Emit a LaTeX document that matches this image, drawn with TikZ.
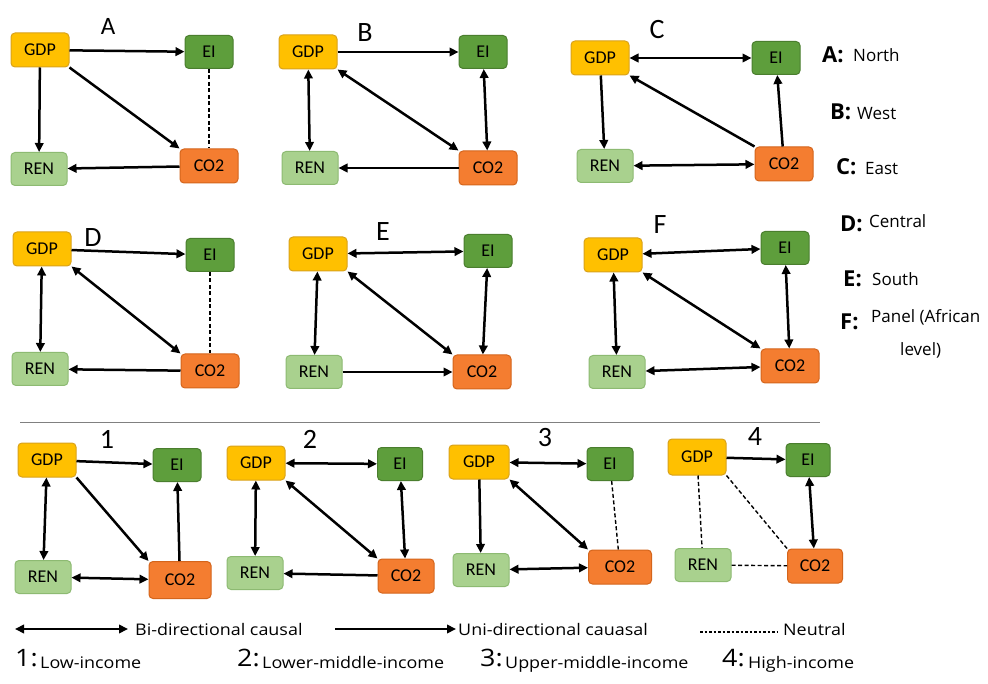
\documentclass[tikz,border=0pt]{standalone}
\usepackage{fontspec}
\setmainfont{Carlito}
\newfontfamily\legfont[FakeStretch=1.12]{Open Sans}
\newfontfamily\keyfont{Open Sans}
\usetikzlibrary{arrows.meta}
\definecolor{gdpfill}{HTML}{FFC000}
\definecolor{gdpedge}{HTML}{D9A21B}
\definecolor{eifill}{HTML}{5E9E3C}
\definecolor{eiedge}{HTML}{4A7E2E}
\definecolor{renfill}{HTML}{A9D18E}
\definecolor{renedge}{HTML}{8DBA72}
\definecolor{cofill}{HTML}{F47D30}
\definecolor{coedge}{HTML}{D4651C}
\tikzset{
  varbox/.style={rounded corners=4pt,line width=1pt,inner sep=0pt,minimum height=34pt,
    font=\fontsize{18}{18}\selectfont},
  gdpbox/.style={varbox,fill=gdpfill,draw=gdpedge,minimum width=58pt},
  eibox/.style={varbox,fill=eifill,draw=eiedge,minimum width=48pt,minimum height=33pt},
  renbox/.style={varbox,fill=renfill,draw=renedge,minimum width=56pt,minimum height=33pt},
  cobox/.style={varbox,fill=cofill,draw=coedge,minimum width=58pt},
  uni/.style={-{Triangle[length=9pt,width=8.5pt]},line width=2.5pt},
  bi/.style={{Triangle[length=9pt,width=8.5pt]}-{Triangle[length=9pt,width=8.5pt]},line width=2.5pt},
  neutral/.style={dash pattern=on 4pt off 2.5pt,line width=1.4pt},
  ttl/.style={font=\fontsize{28}{28}\selectfont},
  keyletter/.style={anchor=base west,inner sep=0pt,font=\keyfont\bfseries\fontsize{22}{22}\selectfont},
  keytext/.style={anchor=base west,inner sep=0pt,font=\keyfont\fontsize{17}{17}\selectfont},
  legtext/.style={anchor=base west,inner sep=0pt,font=\legfont\fontsize{16}{16}\selectfont},
  legnum/.style={anchor=base west,inner sep=0pt,font=\legfont\fontsize{24}{24}\selectfont}
}
\begin{document}
\begin{tikzpicture}[x=1pt,y=-1pt]
\useasboundingbox[fill=white] (0,0) rectangle (988,684);

\node[ttl,font=\fontsize{25}{25}\selectfont] (tA) at (108,26) {A};
\node[gdpbox] (gdpA) at (40,50) {GDP};
\node[eibox] (eiA) at (209,52) {EI};
\node[renbox] (renA) at (39,169) {REN};
\node[cobox] (coA) at (209,166) {CO2};
\draw[uni] (gdpA) -- (eiA);
\draw[uni] (gdpA) -- (renA);
\draw[uni] (gdpA.south east) -- (coA.north west);
\draw[uni] (coA) -- (renA);
\draw[neutral] (eiA) -- (coA);

\node[ttl] (tB) at (365,33) {B};
\node[gdpbox] (gdpB) at (308,52) {GDP};
\node[eibox] (eiB) at (483,52) {EI};
\node[renbox] (renB) at (310,168) {REN};
\node[cobox] (coB) at (488,168) {CO2};
\draw[uni] (gdpB) -- (eiB);
\draw[bi] (gdpB) -- (renB);
\draw[bi] (gdpB.south east) -- (coB.north west);
\draw[bi] (eiB) -- (coB);
\draw[uni] (coB) -- (renB);

\node[ttl] (tC) at (657,30) {C};
\node[gdpbox] (gdpC) at (600,58) {GDP};
\node[eibox] (eiC) at (776,58) {EI};
\node[renbox] (renC) at (605,166) {REN};
\node[cobox] (coC) at (784,164) {CO2};
\draw[bi] (gdpC) -- (eiC);
\draw[uni] (gdpC) -- (renC);
\draw[uni] (coC.north west) -- (gdpC.south east);
\draw[uni] (coC) -- (eiC);
\draw[bi] (renC) -- (coC);

\node[ttl] (tD) at (93,238) {D};
\node[gdpbox] (gdpD) at (42,249) {GDP};
\node[eibox] (eiD) at (210,255) {EI};
\node[renbox] (renD) at (40,369) {REN};
\node[cobox] (coD) at (210,371) {CO2};
\draw[uni] (gdpD) -- (eiD);
\draw[bi] (gdpD) -- (renD);
\draw[bi] (gdpD.south east) -- (coD.north west);
\draw[uni] (coD) -- (renD);
\draw[neutral] (eiD) -- (coD);

\node[ttl] (tE) at (383,232) {E};
\node[gdpbox] (gdpE) at (318,254) {GDP};
\node[eibox] (eiE) at (488,251) {EI};
\node[renbox] (renE) at (314,372) {REN};
\node[cobox] (coE) at (482,372) {CO2};
\draw[bi] (gdpE) -- (eiE);
\draw[bi] (gdpE) -- (renE);
\draw[bi] (gdpE.south east) -- (coE.north west);
\draw[bi] (eiE) -- (coE);
\draw[uni] (renE) -- (coE);

\node[ttl] (tF) at (660,225) {F};
\node[gdpbox] (gdpF) at (613,255) {GDP};
\node[eibox] (eiF) at (785,248) {EI};
\node[renbox] (renF) at (617,372) {REN};
\node[cobox] (coF) at (790,366) {CO2};
\draw[bi] (gdpF) -- (eiF);
\draw[bi] (gdpF) -- (renF);
\draw[bi] (gdpF.south east) -- (coF.north west);
\draw[bi] (eiF) -- (coF);
\draw[bi] (renF) -- (coF);

\node[keyletter] (kA) at (822,63) {A:};
\node[keytext] (kAt) at (853,62) {North};
\node[keyletter] (kB) at (830,120) {B:};
\node[keytext] (kBt) at (857,120) {West};
\node[keyletter] (kC) at (836,175) {C:};
\node[keytext] (kCt) at (865,175) {East};
\node[keyletter] (kD) at (840,232) {D:};
\node[keytext] (kDt) at (869,228) {Central};
\node[keyletter] (kE) at (843,287) {E:};
\node[keytext] (kEt) at (872,286) {South};
\node[keyletter] (kF) at (840,330) {F:};
\node[keytext] (kFt) at (871,323) {Panel (African};
\node[keytext] (kFt2) at (900,356) {level)};

\coordinate (sepL) at (20,423);
\coordinate (sepR) at (820,423);
\draw[gray,line width=1pt] (sepL) -- (sepR);

\node[ttl] (t1) at (107,439) {1};
\node[gdpbox] (gdp1) at (47,460) {GDP};
\node[eibox] (ei1) at (177,465) {EI};
\node[renbox] (ren1) at (43,577) {REN};
\node[cobox,minimum width=62pt,minimum height=37pt] (co1) at (180,580) {CO2};
\draw[uni] (gdp1) -- (ei1);
\draw[bi] (gdp1) -- (ren1);
\draw[uni] (gdp1.south east) -- (co1.north west);
\draw[uni] (co1) -- (ei1);
\draw[bi] (ren1) -- (co1);

\node[ttl] (t2) at (310,439) {2};
\node[gdpbox] (gdp2) at (256,463) {GDP};
\node[eibox,minimum width=45pt] (ei2) at (400,464) {EI};
\node[renbox] (ren2) at (255,573) {REN};
\node[cobox,minimum width=56pt] (co2) at (406,576) {CO2};
\draw[bi] (gdp2) -- (ei2);
\draw[bi] (gdp2) -- (ren2);
\draw[bi] (gdp2.south east) -- (co2.north west);
\draw[bi] (ei2) -- (co2);
\draw[uni] (co2) -- (ren2);

\node[ttl] (t3) at (545,438) {3};
\node[gdpbox,minimum width=60pt] (gdp3) at (479,462) {GDP};
\node[eibox,minimum width=46pt] (ei3) at (610,464) {EI};
\node[renbox] (ren3) at (481,570) {REN};
\node[cobox,minimum width=63pt] (co3) at (620,567) {CO2};
\draw[bi] (gdp3) -- (ei3);
\draw[uni] (gdp3) -- (ren3);
\draw[bi] (gdp3.south east) -- (co3.north west);
\draw[neutral] (ei3) -- (co3);
\draw[bi] (ren3) -- (co3);

\node[ttl] (t4) at (755,437) {4};
\node[gdpbox,minimum height=36pt] (gdp4) at (697,457) {GDP};
\node[eibox,minimum width=44pt] (ei4) at (808,460) {EI};
\node[renbox] (ren4) at (703,565) {REN};
\node[cobox,minimum width=55pt] (co4) at (815,566) {CO2};
\draw[uni] (gdp4) -- (ei4);
\draw[neutral] (gdp4) -- (ren4);
\draw[neutral] (gdp4.south east) -- (co4.north west);
\draw[bi] (ei4) -- (co4);
\draw[neutral] (ren4) -- (co4);

\node[legtext] (biTxt) at (135,635) {Bi-directional causal};
\node[legtext] (uniTxt) at (458,635) {Uni-directional cauasal};
\node[legtext] (neuTxt) at (783,635) {Neutral};
\coordinate (biL) at (15,629);
\coordinate (uniL) at (335,629);
\coordinate (neuL) at (700,632);
\draw[bi,line width=2pt,shorten >=7pt] (biL) -- (biTxt.west |- biL);
\draw[uni,line width=2pt,shorten >=2pt] (uniL) -- (uniTxt.west |- uniL);
\draw[neutral,line width=1.2pt,dash pattern=on 2.5pt off 2pt] (neuL) -- ([xshift=-6pt]neuTxt.west |- neuL);

\node[legnum] (n1) at (15,666) {1:};
\node[legtext] (n1t) at (40,668) {Low-income};
\node[legnum] (n2) at (237,666) {2:};
\node[legtext] (n2t) at (262,668) {Lower-middle-income};
\node[legnum] (n3) at (480,666) {3:};
\node[legtext] (n3t) at (505,668) {Upper-middle-income};
\node[legnum] (n4) at (722,666) {4:};
\node[legtext] (n4t) at (748,668) {High-income};
\end{tikzpicture}
\end{document}
